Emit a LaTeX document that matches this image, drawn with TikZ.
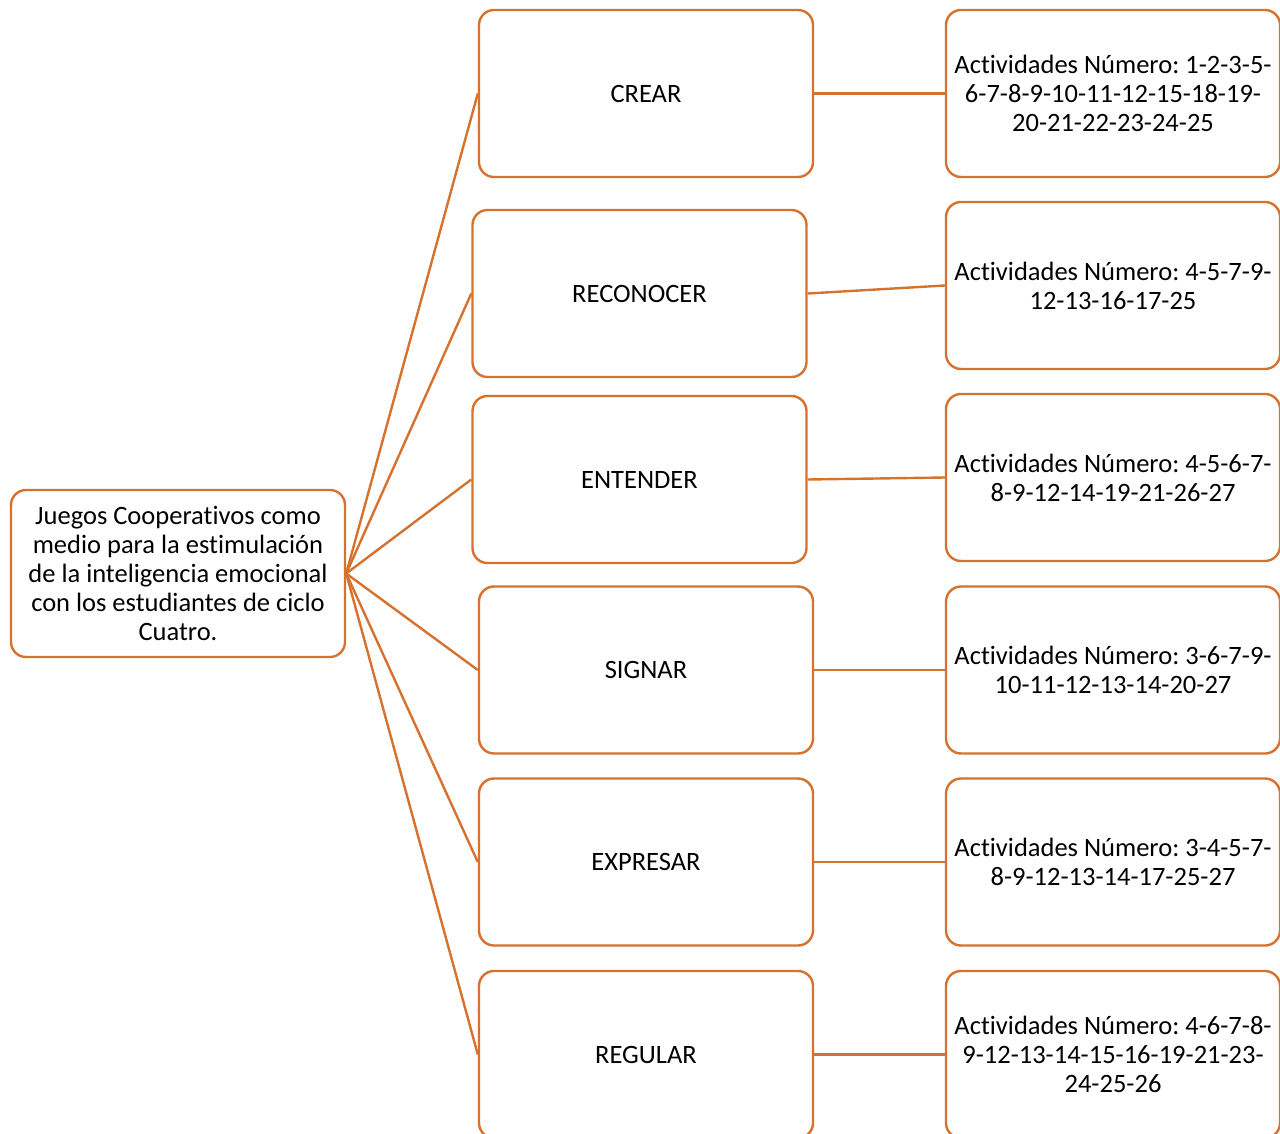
\documentclass[tikz,border=0pt]{standalone}
\usepackage{fontspec}
\setmainfont{Carlito}[Ligatures=NoCommon]
\frenchspacing
\definecolor{edgeorange}{RGB}{214,114,46}
\begin{document}
\begin{tikzpicture}[x=1pt,y=-1pt,
  box/.style={draw=edgeorange, line width=2.4pt, rounded corners=15pt, fill=white,
    minimum width=334pt, minimum height=167pt, align=center, inner sep=0pt,
    font=\fontsize{26.5}{29}\selectfont},
  link/.style={draw=edgeorange, line width=2.4pt}]
\useasboundingbox (0,0) rectangle (1280,1134);
\clip (0,0) rectangle (1280,1134);

% central topic
\node[box] (root) at (178,573.5) {Juegos Cooperativos como\\medio para la estimulación\\de la inteligencia emocional\\con los estudiantes de ciclo\\Cuatro.};

% skills
\node[box] (crear) at (646,93.5) {CREAR};
\node[box] (reconocer) at (639.5,293.5) {RECONOCER};
\node[box] (entender) at (639.5,479.5) {ENTENDER};
\node[box] (signar) at (646,670) {SIGNAR};
\node[box] (expresar) at (646,862) {EXPRESAR};
\node[box] (regular) at (646,1054.5) {REGULAR};

% activity lists
\node[box] (a1) at (1113,93.5) {Actividades Número: 1-2-3-5-\\6-7-8-9-10-11-12-15-18-19-\\20-21-22-23-24-25};
\node[box] (a2) at (1113,285.5) {Actividades Número: 4-5-7-9-\\12-13-16-17-25};
\node[box] (a3) at (1113,477.5) {Actividades Número: 4-5-6-7-\\8-9-12-14-19-21-26-27};
\node[box] (a4) at (1113,670) {Actividades Número: 3-6-7-9-\\10-11-12-13-14-20-27};
\node[box] (a5) at (1113,862) {Actividades Número: 3-4-5-7-\\8-9-12-13-14-17-25-27};
\node[box] (a6) at (1113,1054.5) {Actividades Número: 4-6-7-8-\\9-12-13-14-15-16-19-21-23-\\24-25-26};

% connectors from the central topic
\foreach \n in {crear,reconocer,entender,signar,expresar,regular}
  \draw[link] (root.east) -- (\n.west);

% connectors to the activity lists
\draw[link] (crear.east) -- (a1.west);
\draw[link] (reconocer.east) -- (a2.west);
\draw[link] (entender.east) -- (a3.west);
\draw[link] (signar.east) -- (a4.west);
\draw[link] (expresar.east) -- (a5.west);
\draw[link] (regular.east) -- (a6.west);
\end{tikzpicture}
\end{document}
